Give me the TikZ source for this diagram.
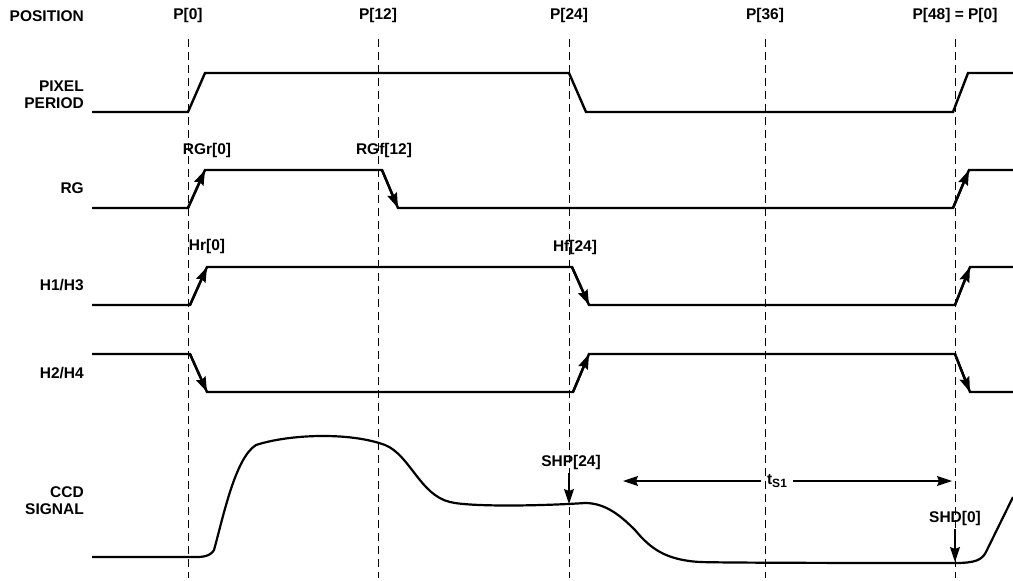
\documentclass[tikz,border=0pt]{standalone}
\usepackage{fontspec}
\setmainfont{Liberation Sans}
\usetikzlibrary{arrows.meta}

\begin{document}
\begin{tikzpicture}[x=1pt, y=-1pt, font=\bfseries\fontsize{15.5}{17}\selectfont]
        \tikzstyle{sig} = [line width=2.4pt, line join=miter]
        \tikzstyle{gridline} = [dash pattern=on 8pt off 5pt, line width=0.9pt]
        \tikzstyle{lbl} = [anchor=east, align=right, inner sep=0pt]
        \tikzstyle{edge} = [-{Stealth[length=15pt, width=10pt, inset=2pt]}, line width=2.4pt]
        \tikzstyle{marker} = [-{Stealth[length=15pt, width=10pt, inset=2pt]}, line width=1.4pt]
        \useasboundingbox (0,0) rectangle (1013,581);
        % position grid
        \node (p0) at (188,15) {P[0]};
        \node (p12) at (378,15) {P[12]};
        \node (p24) at (569,15) {P[24]};
        \node (p36) at (765,15) {P[36]};
        \node (p48) at (955,15) {P[48] = P[0]};
        \draw[gridline] (188,39) -- (188,578);
        \draw[gridline] (378,39) -- (378,578);
        \draw[gridline] (569,39) -- (569,578);
        \draw[gridline] (765,39) -- (765,578);
        \draw[gridline] (955,39) -- (955,578);
        % row names
        \node[lbl] (pos) at (84,16) {POSITION};
        \node[lbl] (pix) at (84,95) {PIXEL\\PERIOD};
        \node[lbl] (rg) at (84,188) {RG};
        \node[lbl] (h13) at (84,285) {H1/H3};
        \node[lbl] (h24) at (84,373) {H2/H4};
        \node[lbl] (ccd) at (84,501) {CCD\\SIGNAL};
        % pixel period
        \draw[sig] (92,112) -- (188,112) -- (205,73) -- (569,73) -- (586,112) -- (953,112) -- (968,73) -- (1013,73);
        % RG
        \draw[sig] (92,208) -- (188,208) -- (205,170) -- (382,170) -- (398,208) -- (953,208) -- (969,170) -- (1013,170);
        \draw[edge] (188,208) -- (205,170);
        \draw[edge] (382,170) -- (398,208);
        \draw[edge] (953,208) -- (969,170);
        \node (rgr) at (207,150) {RGr[0]};
        \node (rgf) at (384,150) {RGf[12]};
        % H1/H3
        \draw[sig] (92,305) -- (190,305) -- (207,267) -- (572,267) -- (589,305) -- (955,305) -- (970,267) -- (1013,267);
        \draw[edge] (190,305) -- (207,267);
        \draw[edge] (572,267) -- (589,305);
        \draw[edge] (955,305) -- (970,267);
        \node (hr) at (207,246) {Hr[0]};
        \node (hf) at (575,247) {Hf[24]};
        % H2/H4
        \draw[sig] (92,354) -- (190,354) -- (207,392) -- (573,392) -- (589,354) -- (955,354) -- (970,392) -- (1013,392);
        \draw[edge] (190,354) -- (207,392);
        \draw[edge] (573,392) -- (589,354);
        \draw[edge] (955,354) -- (970,392);
        % CCD signal
        \draw[line width=2.2pt] (92,557) -- (197,557) .. controls (207,557) and (212,554) .. (214,550)
              .. controls (223,518) and (235,458) .. (256,445)
              .. controls (290,434) and (350,432) .. (385,445)
              .. controls (410,455) and (420,495) .. (450,502)
              .. controls (470,507) and (540,506) .. (585,503)
              .. controls (605,503) and (620,515) .. (635,530)
              .. controls (650,548) and (665,560) .. (700,562)
              .. controls (730,563) and (900,563) .. (955,563)
              .. controls (975,563) and (982,560) .. (986,552) -- (1013,497);
        \node (shp) at (571,462) {SHP[24]};
        \coordinate (shpAt) at (569,504);
        \draw[marker] (shp.south -| shpAt) -- (shpAt);
        \node (shd) at (955,518) {SHD[0]};
        \coordinate (shdAt) at (955,562);
        \draw[marker] (shd.south -| shdAt) -- (shdAt);
        \node[inner xsep=6pt] (ts1) at (777,481) {t\raisebox{-3pt}{\fontsize{12}{12}\selectfont S1}};
        \coordinate (tsL) at (623,481);
        \coordinate (tsR) at (952,481);
        \draw[marker] (ts1) -- (tsL);
        \draw[marker] (ts1) -- (tsR);
\end{tikzpicture}
\end{document}
